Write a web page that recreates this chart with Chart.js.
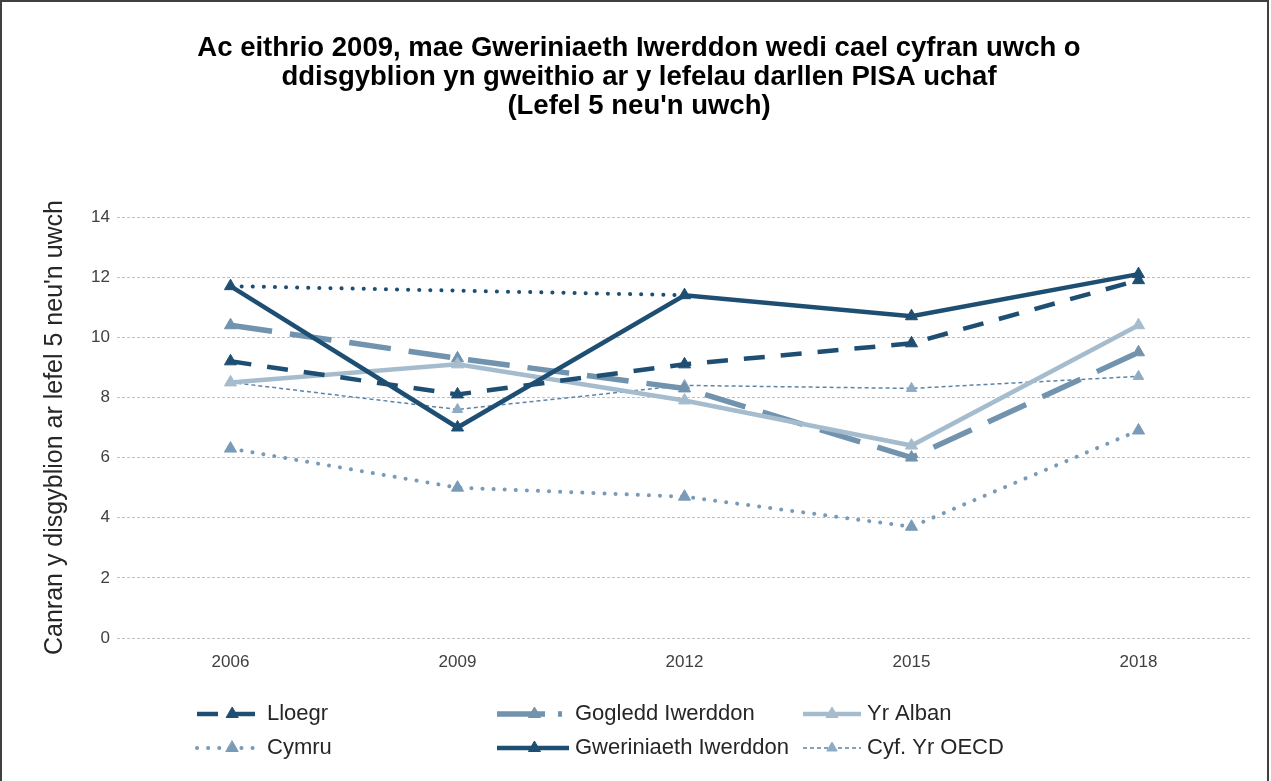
<!DOCTYPE html>
<html>
<head>
<meta charset="utf-8">
<script src="https://cdn.jsdelivr.net/npm/chart.js@4.4.1/dist/chart.umd.min.js"></script>
<style>
  html, body { margin: 0; padding: 0; background: #fff; }
  #wrap {
    position: absolute; left: 0; top: 0;
    width: 1265px; height: 781px;
    border-left: 2px solid #404040;
    border-top: 2px solid #404040;
    border-right: 2px solid #404040;
  }
  canvas { display: block; }
</style>
</head>
<body>
<div id="wrap"><canvas id="chart" width="1265" height="779"></canvas></div>
<script>
// Data
const years = ['2006', '2009', '2012', '2015', '2018'];
const lloegr = [9.2, 8.1, 9.1, 9.8, 11.9];
const gogleddIwerddon = [10.4, 9.3, 8.3, 6.0, 9.5];
const yrAlban = [8.5, 9.1, 7.9, 6.4, 10.4];
const cymru = [6.3, 5.0, 4.7, 3.7, 6.9];
const gweriniaethIwerddon = [11.7, 7.0, 11.4, 10.7, 12.1];
const cyfOecd = [8.5, 7.6, 8.4, 8.3, 8.7];
// dotted link for Ireland, leaving out 2009
const gweriniaethHeb2009 = [11.7, null, 11.4, null, null];
const yTicks = [0, 2, 4, 6, 8, 10, 12, 14];

const titleLines = [
  'Ac eithrio 2009, mae Gweriniaeth Iwerddon wedi cael cyfran uwch o',
  'ddisgyblion yn gweithio ar y lefelau darllen PISA uchaf',
  "(Lefel 5 neu'n uwch)"
];
const yTitle = "Canran y disgyblion ar lefel 5 neu'n uwch";

const dark = '#1e4f73';
const mid = '#7193ae';
const light = '#a5bccf';
const dotMid = '#7a9bb7';
const oecdCol = '#5d84a8';

// Legend order: two rows of three
const legendRows = [
  ['Lloegr', 'Gogledd Iwerddon', 'Yr Alban'],
  ['Cymru', 'Gweriniaeth Iwerddon', 'Cyf. Yr OECD']
];

function tri(color, r) {
  return {
    pointStyle: 'triangle',
    pointRadius: r,
    pointHoverRadius: r,
    pointBackgroundColor: color,
    pointBorderColor: color,
    pointBorderWidth: 1
  };
}

const datasets = [
  Object.assign({
    label: 'Gweriniaeth Iwerddon',
    data: gweriniaethIwerddon,
    borderColor: dark,
    borderWidth: 4.5,
    order: 0
  }, tri(dark, 7)),
  Object.assign({
    label: 'Lloegr',
    data: lloegr,
    borderColor: dark,
    borderWidth: 4.5,
    borderDash: [21, 16],
    order: 1
  }, tri(dark, 7)),
  Object.assign({
    label: 'Yr Alban',
    data: yrAlban,
    borderColor: light,
    borderWidth: 4.5,
    order: 2
  }, tri(light, 7)),
  Object.assign({
    label: 'Gogledd Iwerddon',
    data: gogleddIwerddon,
    borderColor: mid,
    borderWidth: 5.5,
    borderDash: [42, 18],
    legendDash: [48, 13, 4, 40],
    order: 3
  }, tri(mid, 7)),
  Object.assign({
    label: 'Cyf. Yr OECD',
    data: cyfOecd,
    borderColor: oecdCol,
    borderWidth: 1.5,
    borderDash: [4, 3],
    order: 4
  }, tri('#8fabc4', 6)),
  Object.assign({
    label: 'Cymru',
    data: cymru,
    borderColor: dotMid,
    borderWidth: 4,
    borderDash: [0.1, 11],
    borderCapStyle: 'round',
    order: 5
  }, tri(dotMid, 7)),
  {
    label: 'Gweriniaeth Iwerddon (heb 2009)',
    data: gweriniaethHeb2009,
    borderColor: dark,
    borderWidth: 4,
    borderDash: [0.1, 11],
    borderCapStyle: 'round',
    pointRadius: 0,
    spanGaps: true,
    noLegend: true,
    order: 6
  }
];

// Title and the two-row legend with line samples, drawn like the original
const titleAndLegend = {
  id: 'titleAndLegend',
  afterDraw(chart) {
    const ctx = chart.ctx;

    ctx.save();
    ctx.fillStyle = '#000';
    ctx.font = 'bold 27.5px Arial';
    ctx.textAlign = 'center';
    ctx.textBaseline = 'middle';
    titleLines.forEach((line, i) => {
      ctx.fillText(line, 637, 46 + i * 29);
    });
    ctx.restore();

    const colX = [195, 495, 801];
    const sampleLen = [64, 72, 58];
    const markAt = [0.55, 0.52, 0.5];
    const rowY = [712, 746];
    legendRows.forEach((row, ri) => {
      row.forEach((name, ci) => {
        const ds = chart.data.datasets.find(d => d.label === name && !d.noLegend);
        if (!ds) return;
        const x0 = colX[ci];
        const y = rowY[ri];
        const len = sampleLen[ci];
        ctx.save();
        ctx.strokeStyle = ds.borderColor;
        ctx.lineWidth = ds.borderWidth;
        ctx.lineCap = ds.borderCapStyle || 'butt';
        ctx.setLineDash(ds.legendDash || ds.borderDash || []);
        ctx.beginPath();
        ctx.moveTo(x0, y);
        ctx.lineTo(x0 + len, y);
        ctx.stroke();
        ctx.setLineDash([]);
        ctx.fillStyle = ds.pointBackgroundColor;
        ctx.strokeStyle = ds.pointBorderColor;
        ctx.lineWidth = 1;
        Chart.helpers.drawPoint(ctx, {
          pointStyle: 'triangle',
          radius: ds.pointRadius,
          rotation: 0,
          borderWidth: 1
        }, x0 + len * markAt[ci], y);
        ctx.fillStyle = '#262626';
        ctx.font = '22px Arial';
        ctx.textBaseline = 'middle';
        ctx.textAlign = 'left';
        ctx.fillText(name, x0 + len + 6, y);
        ctx.restore();
      });
    });
  }
};

new Chart(document.getElementById('chart'), {
  type: 'line',
  data: { labels: years, datasets: datasets },
  plugins: [titleAndLegend],
  options: {
    responsive: false,
    animation: false,
    layout: { padding: { left: 10, right: 15, top: 215, bottom: 103 } },
    elements: { line: { tension: 0, fill: false } },
    plugins: {
      legend: { display: false },
      tooltip: { enabled: false },
      title: { display: false }
    },
    scales: {
      x: {
        offset: true,
        grid: { display: false, drawTicks: false },
        border: { display: false },
        ticks: { color: '#404040', font: { family: 'Arial', size: 17 }, padding: 14 },
        afterFit(scale) { scale.height = 40; }
      },
      y: {
        min: 0,
        max: 14,
        afterBuildTicks(scale) { scale.ticks = yTicks.map(v => ({ value: v })); },
        grid: { color: '#c0c0c0', lineWidth: 1, drawTicks: false },
        border: { display: false, dash: [3, 2] },
        ticks: { color: '#404040', font: { family: 'Arial', size: 17 }, padding: 7 },
        title: {
          display: true,
          text: yTitle,
          color: '#262626',
          font: { family: 'Arial', size: 25 },
          padding: { top: 28, bottom: 0 }
        },
        afterFit(scale) { scale.width = 105; }
      }
    }
  }
});
</script>
</body>
</html>
